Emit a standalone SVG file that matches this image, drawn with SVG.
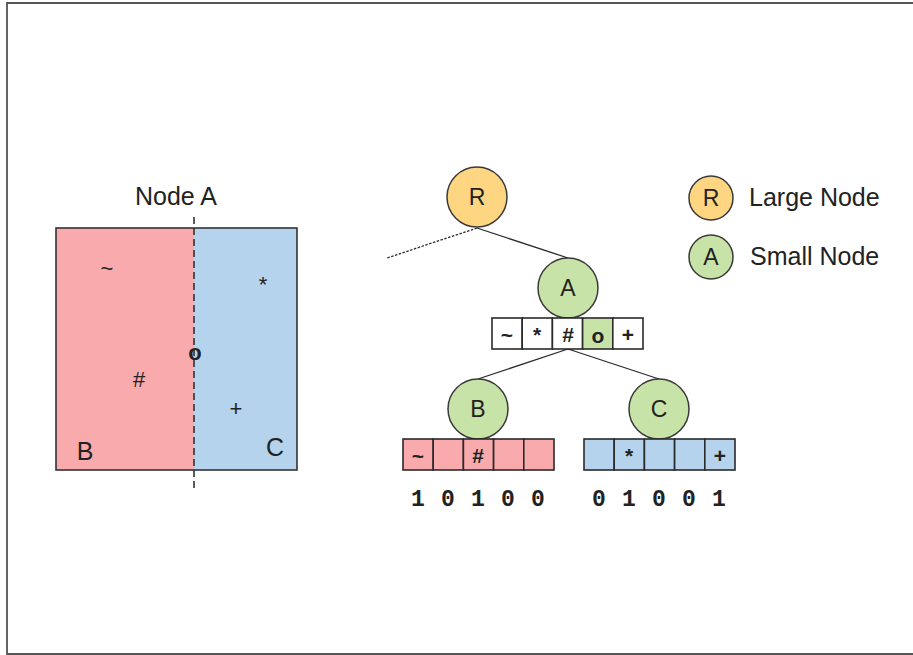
<svg xmlns="http://www.w3.org/2000/svg" width="913" height="655" viewBox="0 0 913 655">
  <style>
    text { font-family: "Liberation Sans", Arial, sans-serif; fill: #222; }
    .lbl { font-size: 25px; }
    .node-txt { font-size: 23px; text-anchor: middle; dominant-baseline: central; }
    .sym { font-size: 22px; text-anchor: middle; dominant-baseline: central; }
    .cell-txt { font-size: 21px; font-weight: bold; text-anchor: middle; dominant-baseline: central; }
    .bit { font-family: "Liberation Mono", "DejaVu Sans Mono", monospace; font-size: 23px; font-weight: bold; text-anchor: middle; dominant-baseline: central; }
    .large { fill: #fed580; stroke: #3a3a3a; stroke-width: 1.5; }
    .small { fill: #c8e3a7; stroke: #3a3a3a; stroke-width: 1.5; }
    .cell { stroke: #2a2a2a; stroke-width: 1.6; }
    .white { fill: #ffffff; }
    .red { fill: #f8aaad; }
    .blue { fill: #b5d3ec; }
    .green { fill: #c8e3a7; }
    .edge { stroke: #2a2a2a; stroke-width: 1.3; fill: none; }
  </style>

  <!-- page frame -->
  <path d="M913 3 H7 V654 H913" fill="none" stroke="#555" stroke-width="1.8"/>

  <!-- split of node A's space -->
  <g id="space">
    <text class="lbl" x="176" y="205" text-anchor="middle">Node A</text>
    <rect x="56" y="228" width="138" height="242" class="red"/>
    <rect x="194" y="228" width="103" height="242" class="blue"/>
    <rect x="56" y="228" width="241" height="242" fill="none" stroke="#333" stroke-width="1.6"/>
    <line x1="194" y1="217" x2="194" y2="491" stroke="#333" stroke-width="1.6" stroke-dasharray="7 4"/>
    <text class="sym" x="107" y="268">~</text>
    <text class="sym" x="263" y="284">*</text>
    <text class="sym" x="195" y="352" font-weight="bold">o</text>
    <text class="sym" x="139" y="379">#</text>
    <text class="sym" x="236" y="408">+</text>
    <text class="lbl" x="85" y="460" text-anchor="middle">B</text>
    <text class="lbl" x="275" y="456" text-anchor="middle">C</text>
  </g>

  <!-- tree edges -->
  <g id="connectors">
    <line class="edge" x1="477" y1="228" x2="387" y2="258" stroke-dasharray="2.5 1.5"/>
    <line class="edge" x1="477" y1="228" x2="568" y2="258"/>
    <line class="edge" x1="568" y1="349" x2="478" y2="379"/>
    <line class="edge" x1="568" y1="349" x2="659" y2="379"/>
  </g>

  <g id="node-R">
    <circle class="large" cx="477" cy="197" r="30"/>
    <text class="node-txt" x="477" y="197">R</text>
  </g>

  <g id="node-A">
    <circle class="small" cx="568" cy="288" r="30"/>
    <text class="node-txt" x="568" y="288">A</text>
    <rect class="cell white" x="492" y="318" width="30.2" height="31"/>
    <rect class="cell white" x="522.2" y="318" width="30.2" height="31"/>
    <rect class="cell white" x="552.4" y="318" width="30.2" height="31"/>
    <rect class="cell green" x="582.6" y="318" width="30.2" height="31"/>
    <rect class="cell white" x="612.8" y="318" width="30.2" height="31"/>
    <text class="cell-txt" x="507" y="334">~</text>
    <text class="cell-txt" x="537" y="334">*</text>
    <text class="cell-txt" x="568" y="334">#</text>
    <text class="cell-txt" x="598" y="335">o</text>
    <text class="cell-txt" x="628" y="334">+</text>
  </g>

  <g id="node-B">
    <circle class="small" cx="478" cy="409" r="30"/>
    <text class="node-txt" x="478" y="409">B</text>
    <rect class="cell red" x="403" y="439" width="30.2" height="31"/>
    <rect class="cell red" x="433.2" y="439" width="30.2" height="31"/>
    <rect class="cell red" x="463.4" y="439" width="30.2" height="31"/>
    <rect class="cell red" x="493.6" y="439" width="30.2" height="31"/>
    <rect class="cell red" x="523.8" y="439" width="30.2" height="31"/>
    <text class="cell-txt" x="418" y="455">~</text>
    <text class="cell-txt" x="478" y="455">#</text>
    <text class="bit" x="418" y="500">1</text>
    <text class="bit" x="448" y="500">0</text>
    <text class="bit" x="478" y="500">1</text>
    <text class="bit" x="508" y="500">0</text>
    <text class="bit" x="538" y="500">0</text>
  </g>

  <g id="node-C">
    <circle class="small" cx="659" cy="409" r="30"/>
    <text class="node-txt" x="659" y="409">C</text>
    <rect class="cell blue" x="584" y="439" width="30.2" height="31"/>
    <rect class="cell blue" x="614.2" y="439" width="30.2" height="31"/>
    <rect class="cell blue" x="644.4" y="439" width="30.2" height="31"/>
    <rect class="cell blue" x="674.6" y="439" width="30.2" height="31"/>
    <rect class="cell blue" x="704.8" y="439" width="30.2" height="31"/>
    <text class="cell-txt" x="629" y="455">*</text>
    <text class="cell-txt" x="720" y="455">+</text>
    <text class="bit" x="599" y="500">0</text>
    <text class="bit" x="629" y="500">1</text>
    <text class="bit" x="659" y="500">0</text>
    <text class="bit" x="689" y="500">0</text>
    <text class="bit" x="719" y="500">1</text>
  </g>

  <!-- key -->
  <g id="legend-large">
    <circle class="large" cx="711" cy="198" r="22"/>
    <text class="node-txt" x="711" y="198">R</text>
    <text class="lbl" x="749" y="206">Large Node</text>
  </g>
  <g id="legend-small">
    <circle class="small" cx="711" cy="257" r="22"/>
    <text class="node-txt" x="711" y="257">A</text>
    <text class="lbl" x="750" y="265">Small Node</text>
  </g>
</svg>
